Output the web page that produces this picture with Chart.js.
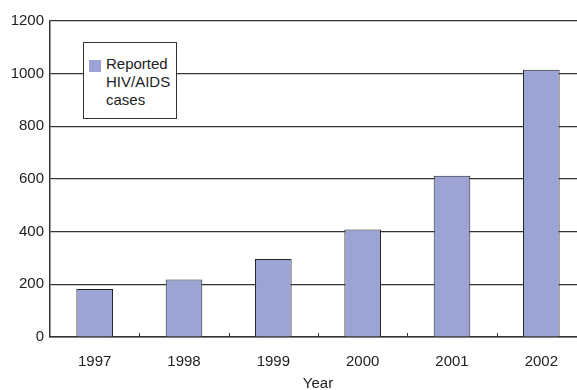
<!DOCTYPE html>
<html>
<head>
<meta charset="utf-8">
<script src="https://cdn.jsdelivr.net/npm/chart.js@4"></script>
<style>
  html, body { margin: 0; padding: 0; background: #fff; }
  body { width: 577px; height: 390px; overflow: hidden; position: relative; }
  .wrap { position: absolute; left: 0; top: 0; width: 600px; height: 390px; }
  .legend {
    position: absolute; left: 83px; top: 42px; width: 94px; height: 77px;
    border: 1px solid #333; background: #fff; box-sizing: border-box;
    font-family: "Liberation Sans", Arial, sans-serif; font-size: 15px; line-height: 18px; color: #222;
  }
  .legend .swatch {
    position: absolute; left: 5px; top: 17px; width: 12px; height: 12px; background: #9ca3d5;
  }
  .legend .text { position: absolute; left: 22px; top: 12px; }
</style>
</head>
<body>
<div class="wrap"><canvas id="chart" width="600" height="390"></canvas></div>
<div class="legend"><span class="swatch"></span><div class="text">Reported<br>HIV/AIDS<br>cases</div></div>
<script>
// chart data
const years = ['1997', '1998', '1999', '2000', '2001', '2002'];
const cases = [182, 218, 296, 408, 612, 1015];
const yTicks = [0, 200, 400, 600, 800, 1000, 1200];

const barColor = '#9ca3d5';
const lineColor = '#333';
const labelFont = { family: '"Liberation Sans", Arial, sans-serif', size: 15 };

// small tick marks pointing up, between categories
const innerTicks = {
    id: 'innerTicks',
    afterDraw(chart) {
        const x = chart.scales.x;
        const ctx = chart.ctx;
        const bottom = chart.chartArea.bottom;
        ctx.save();
        ctx.strokeStyle = lineColor;
        ctx.lineWidth = 1;
        for (let i = 0; i < years.length - 1; i++) {
            const px = Math.round((x.getPixelForValue(i) + x.getPixelForValue(i + 1)) / 2) + 0.5;
            ctx.beginPath();
            ctx.moveTo(px, bottom);
            ctx.lineTo(px, bottom - 4);
            ctx.stroke();
        }
        ctx.restore();
    }
};

Chart.defaults.color = '#222';

new Chart(document.getElementById('chart'), {
    type: 'bar',
    data: {
        labels: years,
        datasets: [{
            label: 'Reported HIV/AIDS cases',
            data: cases,
            backgroundColor: barColor,
            borderColor: '#222',
            borderWidth: 1,
            barPercentage: 0.41,
            categoryPercentage: 1
        }]
    },
    options: {
        responsive: false,
        animation: false,
        layout: { padding: { left: 0, right: 14, top: 21, bottom: 0 } },
        plugins: {
            legend: { display: false },
            tooltip: { enabled: false }
        },
        scales: {
            x: {
                grid: { display: false },
                border: { display: true, color: lineColor, width: 1.5 },
                ticks: { padding: 8, font: labelFont },
                title: { display: true, text: 'Year', font: labelFont, padding: { top: 4, bottom: -3 } },
                afterFit(scale) { scale.height = 53; }
            },
            y: {
                min: 0,
                max: 1200,
                afterBuildTicks(scale) { scale.ticks = yTicks.map(v => ({ value: v })); },
                grid: { color: lineColor, lineWidth: 1.2, drawTicks: false },
                border: { display: true, color: lineColor, width: 1.5 },
                ticks: { padding: 6, font: labelFont, callback: v => String(v) },
                afterFit(scale) { scale.width = 50; }
            }
        }
    },
    plugins: [innerTicks]
});
</script>
</body>
</html>
